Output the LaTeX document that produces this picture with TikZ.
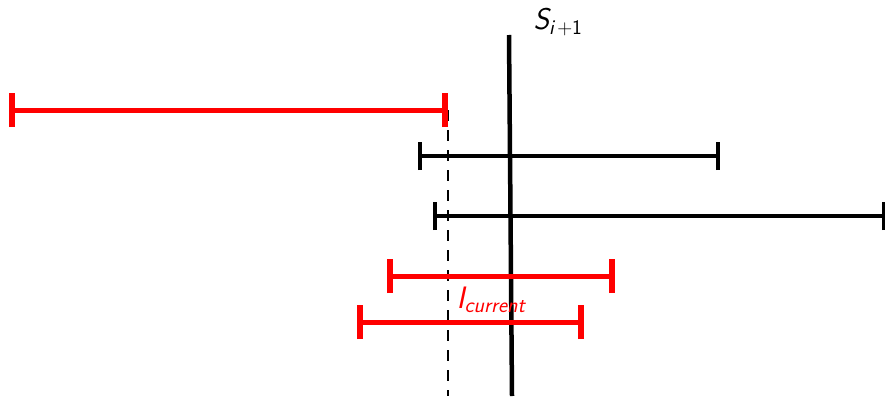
\documentclass[tikz,border=0pt]{standalone}
\usepackage{amsmath}
\tikzset{
  redint/.style={draw=red, line width=5pt},
  blkint/.style={draw=black, line width=4pt},
  redbar/.style={draw=red, line width=5.5pt},
  blkbar/.style={draw=black, line width=4pt},
  sep/.style={draw=black, line width=4.5pt},
  guide/.style={draw=black, line width=2pt, dash pattern=on 11pt off 9pt},
}
\begin{document}
\begin{tikzpicture}[x=1pt,y=-1pt]
\useasboundingbox (0,0) rectangle (885,396);
% separator
\coordinate (st) at (509,35);
\coordinate (sb) at (512,396);
\draw[sep] (st) -- (sb);
\node[anchor=center, font=\sffamily\fontsize{30}{34}\selectfont] (slab) at (558,22) {$\textsf{\itshape S}_{\textsf{\itshape i}\,\mathsf{+}\mathsf{1}}$};
% dashed guide
\coordinate (dt) at (448,110);
\coordinate (db) at (448,396);
\draw[guide] (dt) -- (db);
% red interval 1
\coordinate (a1) at (12,110); \coordinate (b1) at (445,110);
\draw[redint] (a1) -- (b1);
\draw[redbar] ([yshift=-17pt]a1) -- ([yshift=17pt]a1);
\draw[redbar] ([yshift=-17pt]b1) -- ([yshift=17pt]b1);
% black interval 1
\coordinate (a2) at (420,156); \coordinate (b2) at (718,156);
\draw[blkint] (a2) -- (b2);
\draw[blkbar] ([yshift=-14pt]a2) -- ([yshift=14pt]a2);
\draw[blkbar] ([yshift=-14pt]b2) -- ([yshift=14pt]b2);
% black interval 2
\coordinate (a3) at (435,216); \coordinate (b3) at (884,216);
\draw[blkint] (a3) -- (b3);
\draw[blkbar] ([yshift=-14pt]a3) -- ([yshift=14pt]a3);
\draw[blkbar] ([yshift=-14pt]b3) -- ([yshift=14pt]b3);
% red interval 2
\coordinate (a4) at (390,276); \coordinate (b4) at (612,276);
\draw[redint] (a4) -- (b4);
\draw[redbar] ([yshift=-17pt]a4) -- ([yshift=17pt]a4);
\draw[redbar] ([yshift=-17pt]b4) -- ([yshift=17pt]b4);
% red interval 3
\coordinate (a5) at (360,322); \coordinate (b5) at (581,322);
\draw[redint] (a5) -- (b5);
\draw[redbar] ([yshift=-17pt]a5) -- ([yshift=17pt]a5);
\draw[redbar] ([yshift=-17pt]b5) -- ([yshift=17pt]b5);
\node[text=red, font=\sffamily\fontsize{31}{35}\selectfont] (ilab) at (491,300) {$\textsf{\itshape I}_{\textsf{\itshape current}}$};
\end{tikzpicture}
\end{document}
